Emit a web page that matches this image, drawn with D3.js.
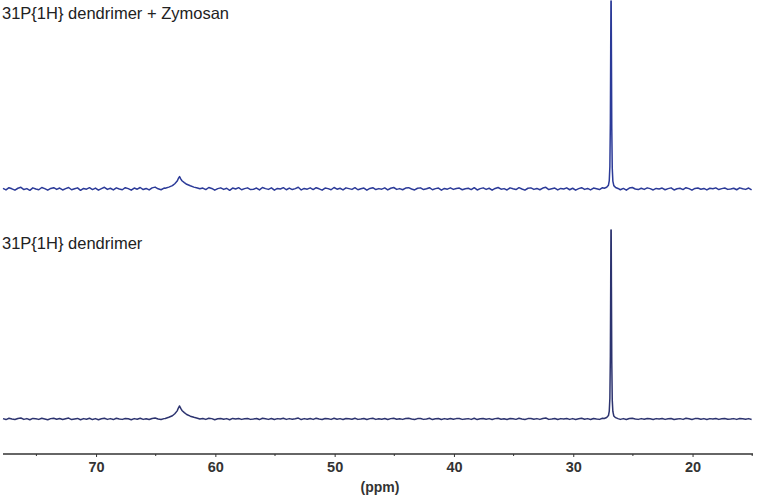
<!DOCTYPE html>
<html>
<head>
<meta charset="utf-8">
<script src="https://cdn.jsdelivr.net/npm/d3@7"></script>
<style>
  body { margin: 0; background: #fff; }
  svg text { font-family: "Liberation Sans", Arial, sans-serif; }
</style>
</head>
<body>
<div id="nmr"></div>
<script>
var ppmStart = 77.8, ppmStep = 0.25;

var noiseTop = [
  0.3,-0.5,0.7,0.1,-0.6,0.4,0.9,-0.3,0.2,-0.7,0.6,0.0,-0.4,0.8,0.2,-0.6,0.3,0.7,-0.2,0.5,
  -0.5,0.2,0.8,-0.4,0.1,0.6,-0.7,0.3,-0.1,0.7,-0.3,0.5,-0.6,0.2,0.9,-0.2,0.4,-0.5,0.6,0.0,
  -0.4,0.7,0.2,-0.6,0.5,-0.1,0.8,-0.3,0.3,-0.5,0.6,1.0,0.1,-0.4,0.5,-0.2,0.7,0.2,-0.6,0.4,
  -0.1,0.6,-0.4,0.2,0.7,-0.5,0.1,0.5,-0.3,0.8,0.3,-0.6,0.2,0.6,-0.2,0.4,-0.7,0.5,0.0,0.7,
  -0.4,0.2,0.6,-0.3,-0.1,0.5,-0.5,0.8,0.2,-0.2,0.6,-0.6,0.3,0.0,0.7,-0.4,0.5,-0.3,0.2,0.9,
  -0.5,0.3,-0.1,0.6,-0.3,0.7,0.1,-0.6,0.5,0.2,-0.4,0.8,-0.1,0.4,-0.5,0.6,0.2,-0.2,0.7,-0.4,
  0.1,0.5,-0.6,0.3,0.7,-0.3,0.2,-0.1,0.6,-0.5,0.4,0.8,-0.2,0.2,-0.4,0.5,0.7,0.0,-0.5,0.4,
  0.6,-0.3,0.1,0.7,-0.4,0.2,0.5,-0.6,0.3,-0.1,0.6,-0.2,0.3,0.5,-0.4,0.1,0.4,-0.3,0.7,-0.5,
  0.2,0.6,-0.2,0.4,-0.6,0.3,0.8,-0.1,0.2,-0.5,0.6,0.1,-0.3,0.7,0.0,-0.6,0.4,0.6,-0.2,0.3,
  -0.4,0.5,0.9,-0.3,0.1,0.5,-0.5,0.3,0.0,0.6,-0.4,0.4,-0.6,0.2,0.7,-0.2,0.3,-0.5,0.5,0.1,
  -0.3,0.7,0.1,-0.5,0.4,0.0,0.6,-0.4,0.3,-0.6,0.5,0.8,0.0,-0.3,0.4,-0.2,0.6,0.2,-0.5,0.3,
  0.0,0.5,-0.4,0.2,0.6,-0.5,0.1,0.4,-0.3,0.7,0.2,-0.6,0.3,0.5,-0.1,0.3,-0.5,0.4,0.1,0.6,
  -0.3,0.2,0.5,-0.2,0.0,0.4,-0.4,0.6,0.1,-0.2,0.5,-0.5
];

var noiseBottom = [
  0.2,-0.3,0.4,0.0,-0.3,0.3,0.5,-0.2,0.2,-0.4,0.3,0.1,-0.2,0.4,0.0,-0.4,0.2,0.4,-0.1,0.3,
  -0.3,0.1,0.5,-0.3,0.0,0.3,-0.4,0.2,-0.1,0.4,-0.3,0.2,-0.4,0.1,0.4,-0.2,0.2,-0.3,0.4,0.0,
  -0.2,0.3,0.1,-0.4,0.2,-0.1,0.4,-0.2,0.1,-0.3,0.3,0.5,0.0,-0.3,0.2,-0.1,0.4,0.1,-0.3,0.2,
  -0.1,0.3,-0.2,0.1,0.4,-0.3,0.0,0.3,-0.2,0.4,0.2,-0.4,0.1,0.3,-0.1,0.2,-0.4,0.3,0.0,0.3,
  -0.2,0.1,0.3,-0.2,0.0,0.3,-0.3,0.4,0.1,-0.2,0.3,-0.3,0.2,0.0,0.4,-0.2,0.2,-0.1,0.1,0.5,
  -0.3,0.2,-0.1,0.3,-0.2,0.4,0.0,-0.3,0.3,0.1,-0.2,0.4,-0.1,0.2,-0.3,0.3,0.1,-0.1,0.4,-0.2,
  0.0,0.3,-0.3,0.2,0.4,-0.2,0.1,-0.1,0.3,-0.3,0.2,0.4,-0.1,0.1,-0.2,0.3,0.4,0.0,-0.3,0.2,
  0.3,-0.2,0.0,0.4,-0.3,0.1,0.3,-0.3,0.2,-0.1,0.3,-0.1,0.2,0.3,-0.2,0.0,0.2,-0.2,0.4,-0.3,
  0.1,0.3,-0.1,0.2,-0.3,0.2,0.4,-0.1,0.1,-0.3,0.3,0.1,-0.2,0.4,0.0,-0.3,0.2,0.3,-0.1,0.2,
  -0.2,0.3,0.5,-0.2,0.0,0.3,-0.3,0.2,0.0,0.3,-0.2,0.2,-0.3,0.1,0.4,-0.1,0.2,-0.3,0.3,0.0,
  -0.2,0.4,0.1,-0.3,0.2,0.0,0.3,-0.2,0.2,-0.3,0.3,0.4,0.0,-0.2,0.2,-0.1,0.3,0.1,-0.3,0.2,
  0.0,0.3,-0.2,0.1,0.3,-0.3,0.0,0.2,-0.2,0.4,0.1,-0.3,0.2,0.3,-0.1,0.2,-0.3,0.2,0.0,0.3,
  -0.2,0.1,0.3,-0.1,0.0,0.2,-0.2,0.3,0.1,-0.1,0.2,-0.3
];

// peaks: [ppm, intensity], main peak normalised to 100
var smallPeakTop = [
  [64.2,0.4],[63.9,1.0],[63.6,1.8],[63.4,2.8],[63.2,4.2],[63.1,5.6],[63.0,6.6],
  [62.9,5.4],[62.8,4.4],[62.6,3.4],[62.4,2.5],[62.1,1.7],[61.8,1.0],[61.5,0.5]
];
var mainPeakTop = [
  [27.4,0.4],[27.2,0.9],[27.05,2.0],[26.98,4.5],[26.93,12],[26.89,35],[26.86,75],
  [26.84,100],[26.82,100],[26.8,72],[26.77,32],[26.73,11],[26.68,4.2],[26.6,1.8],
  [26.45,0.8],[26.25,0.3]
];
var smallPeakBottom = [
  [64.2,0.3],[63.9,0.9],[63.6,1.7],[63.4,2.8],[63.2,4.3],[63.1,5.8],[63.0,6.9],
  [62.9,5.6],[62.8,4.5],[62.6,3.4],[62.4,2.4],[62.1,1.5],[61.8,0.9],[61.5,0.4]
];
var mainPeakBottom = [
  [27.4,0.3],[27.2,0.8],[27.05,1.8],[26.98,4.2],[26.93,11],[26.89,33],[26.86,72],
  [26.84,100],[26.82,100],[26.8,70],[26.77,30],[26.73,10],[26.68,4.0],[26.6,1.6],
  [26.45,0.7],[26.25,0.2]
];

var majorTicks = [70, 60, 50, 40, 30, 20];
var minorTicks = [75, 65, 55, 45, 35, 25, 15];

var labels = ["31P{1H} dendrimer + Zymosan", "31P{1H} dendrimer"];

//merge baseline noise with the peak points
var buildSpectrum = function(noise, peaks) {
  var pts = [];
  noise.forEach(function(v, i) {
    var ppm = +(ppmStart - i * ppmStep).toFixed(2);
    var inside = peaks.some(function(p) {
      return ppm <= p[0][0] && ppm >= p[p.length - 1][0];
    });
    if (!inside) pts.push([ppm, v]);
  });
  peaks.forEach(function(p) { pts = pts.concat(p); });
  pts.sort(function(a, b) { return b[0] - a[0]; });
  return pts;
};

var width = 759, height = 497;

var svg = d3
  .select("#nmr")
  .append("svg")
  .attr("width", width)
  .attr("height", height);

var xScale = d3.scaleLinear().domain([77.8, 15]).range([3, 752.2]);

var panels = [
  { data: buildSpectrum(noiseTop, [smallPeakTop, mainPeakTop]), y0: 189, y1: 1, color: "#2b3a98", label: labels[0], ly: 19 },
  { data: buildSpectrum(noiseBottom, [smallPeakBottom, mainPeakBottom]), y0: 419, y1: 230, color: "#2c336f", label: labels[1], ly: 249 }
];

panels.forEach(function(p) {
  var yScale = d3.scaleLinear().domain([0, 100]).range([p.y0, p.y1]);
  var line = d3
    .line()
    .x(function(d) { return xScale(d[0]); })
    .y(function(d) { return yScale(d[1]); });

  svg
    .append("path")
    .datum(p.data)
    .attr("d", line)
    .attr("fill", "none")
    .attr("stroke", p.color)
    .attr("stroke-width", 1.5)
    .attr("stroke-linejoin", "round");

  svg
    .append("text")
    .attr("x", 2)
    .attr("y", p.ly)
    .attr("font-size", 16.5)
    .attr("fill", "#222")
    .text(p.label);
});

//axis
var xAxis = d3.axisBottom(xScale).tickValues(majorTicks).tickSize(3).tickPadding(5);

var axisG = svg
  .append("g")
  .attr("class", "x axis")
  .attr("transform", "translate(0,454)")
  .call(xAxis);

axisG.select(".domain").remove();
axisG
  .append("line")
  .attr("x1", 3)
  .attr("x2", 753)
  .attr("stroke", "#333")
  .attr("stroke-width", 1.5);
axisG.selectAll(".tick line").attr("stroke", "#333");
axisG
  .selectAll(".tick text")
  .attr("font-size", 14.5)
  .attr("font-weight", "bold")
  .attr("fill", "#333")
  .style("font-family", "'Liberation Sans', Arial, sans-serif");

axisG
  .selectAll(".minor")
  .data(minorTicks)
  .enter()
  .append("line")
  .attr("class", "minor")
  .attr("x1", function(d) { return xScale(d); })
  .attr("x2", function(d) { return xScale(d); })
  .attr("y1", 0)
  .attr("y2", 2)
  .attr("stroke", "#333");

svg
  .append("text")
  .attr("x", 380)
  .attr("y", 492)
  .attr("text-anchor", "middle")
  .attr("font-size", 14)
  .attr("font-weight", "bold")
  .attr("fill", "#333")
  .text("(ppm)");
</script>
</body>
</html>
